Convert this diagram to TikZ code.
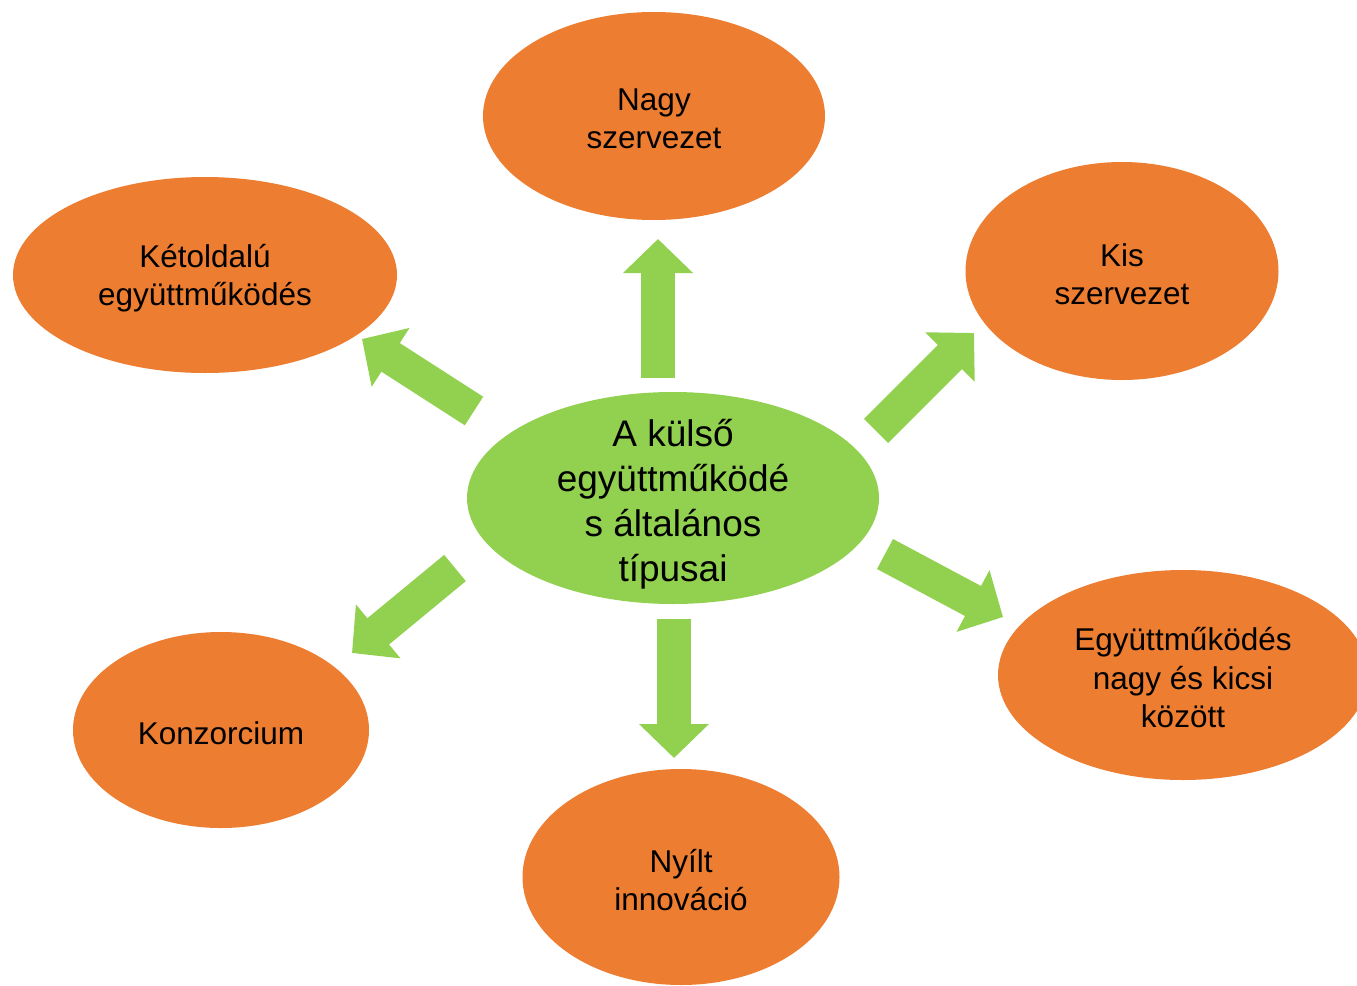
\documentclass[tikz,border=0pt]{standalone}
\usepackage{fontspec}
\setmainfont{Liberation Sans}
\usetikzlibrary{shapes.geometric,arrows.meta}

\definecolor{narancs}{HTML}{ED7D31}
\definecolor{zold}{HTML}{92D050}

\begin{document}
\begin{tikzpicture}[x=1pt, y=-1pt,
        blob/.style={ellipse, fill=narancs, inner sep=0pt},
        kozep/.style={ellipse, fill=zold, inner sep=0pt},
        every label/.style={align=center, text=black, inner sep=0pt, yshift=-3pt,
            font=\fontsize{31.5}{38.5}\selectfont},
        nyil/.style={zold, line width=34pt, -{Triangle[length=34pt, width=68pt]}}]
        \clip (0,0) rectangle (1357,985);

        % kozepso ellipszis
        \node[kozep, minimum width=412pt, minimum height=212pt,
            label={[font=\fontsize{37}{45}\selectfont, yshift=-3pt]center:A külső\\együttműködé\\s általános\\típusai}]
            (kulso) at (673,498) {};

        % tipusok
        \node[blob, minimum width=342pt, minimum height=208pt,
            label=center:Nagy\\szervezet] (nagy) at (654,116) {};
        \node[blob, minimum width=313pt, minimum height=218pt,
            label=center:Kis\\szervezet] (kis) at (1122,271) {};
        \node[blob, minimum width=384pt, minimum height=196pt,
            label=center:Kétoldalú\\együttműködés] (ketold) at (205,275) {};
        \node[blob, minimum width=370pt, minimum height=210pt,
            label=center:Együttműködés\\nagy és kicsi\\között] (nagykis) at (1183,675) {};
        \node[blob, minimum width=296pt, minimum height=196pt,
            label=center:Konzorcium] (konz) at (221,730) {};
        \node[blob, minimum width=317pt, minimum height=216pt,
            label=center:Nyílt\\innováció] (nyilt) at (681,877) {};

        % nyilak vegpontjai
        \coordinate (t1) at (658,378);
        \coordinate (h1) at (658,239);
        \coordinate (t2) at (876,431);
        \coordinate (h2) at (974,333);
        \coordinate (t3) at (885,554);
        \coordinate (h3) at (1003,617);
        \coordinate (t4) at (674,619);
        \coordinate (h4) at (674,758);
        \coordinate (t5) at (455,568);
        \coordinate (h5) at (352,653);
        \coordinate (t6) at (474,411);
        \coordinate (h6) at (362,339);

        \foreach \i in {1,...,6}
            \draw[nyil] (t\i) -- (h\i);
\end{tikzpicture}
\end{document}
